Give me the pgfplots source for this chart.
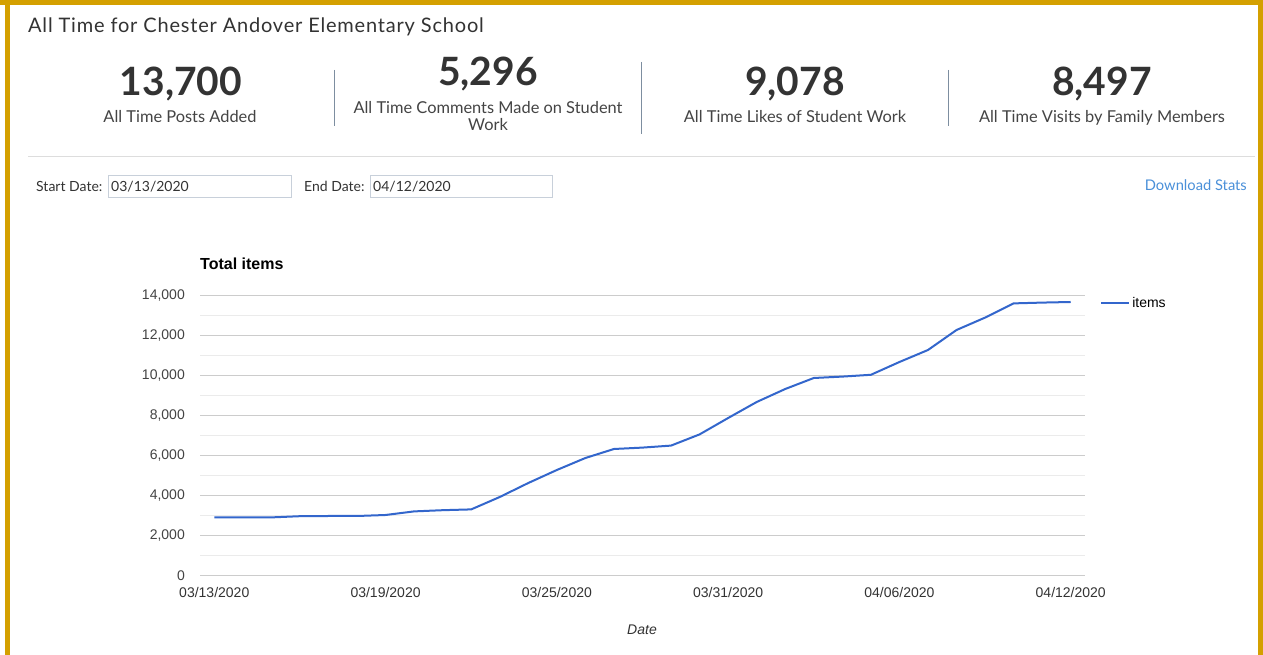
\documentclass[border=0pt]{standalone}
\usepackage{fontspec}
\setmainfont{Liberation Sans}
\newfontfamily\lato{Lato}
\newfontfamily\latowide{Lato}[LetterSpace=4]
\usepackage{pgfplots}
\pgfplotsset{compat=1.18}
\definecolor{gold}{RGB}{212,160,0}
\definecolor{txt}{RGB}{51,51,51}
\definecolor{lbl}{RGB}{68,68,68}
\definecolor{sep}{RGB}{125,142,160}
\definecolor{hr}{RGB}{221,221,221}
\definecolor{boxc}{RGB}{200,208,218}
\definecolor{link}{RGB}{74,144,217}
\definecolor{gblue}{RGB}{51,102,204}
\definecolor{gridmaj}{RGB}{204,204,204}
\definecolor{gridmin}{RGB}{235,235,235}
\definecolor{zeroc}{RGB}{51,51,51}
\pgfplotstableread{
d v
0 2930
1 2930
2 2930
3 2990
4 3000
5 3000
6 3050
7 3230
8 3290
9 3330
10 3950
11 4650
12 5300
13 5900
14 6350
15 6420
16 6520
17 7080
18 7900
19 8700
20 9350
21 9900
22 9970
23 10060
24 10700
25 11300
26 12300
27 12920
28 13630
29 13670
30 13700
}\items
\begin{document}
\begin{tikzpicture}[x=1pt,y=1pt]
\path[use as bounding box, fill=white] (0,0) rectangle (1263,655);
\fill[gold] (0,650) rectangle (1263,655);
\fill[gold] (5,0) rectangle (10,655);
\fill[gold] (1258,0) rectangle (1263,655);
% header
\node[anchor=base west, inner sep=0, text=txt, font=\latowide\fontsize{20}{23}\selectfont] at (28,622) {All Time for Chester Andover Elementary School};
\begin{scope}[every node/.style={anchor=base, inner sep=0, text=txt}]
\node[font=\lato\bfseries\fontsize{39}{44}\selectfont] at (181,559) {13,700};
\node[font=\lato\bfseries\fontsize{39}{44}\selectfont] at (488,569) {5,296};
\node[font=\lato\bfseries\fontsize{39}{44}\selectfont] at (795,559) {9,078};
\node[font=\lato\bfseries\fontsize{39}{44}\selectfont] at (1102,559) {8,497};
\node[font=\lato\fontsize{16.4}{19}\selectfont, text=lbl] at (180,532) {All Time Posts Added};
\node[font=\lato\fontsize{16.4}{19}\selectfont, text=lbl] at (488,541) {All Time Comments Made on Student};
\node[font=\lato\fontsize{16.4}{19}\selectfont, text=lbl] at (488,524) {Work};
\node[font=\lato\fontsize{16.4}{19}\selectfont, text=lbl] at (795,532) {All Time Likes of Student Work};
\node[font=\lato\fontsize{16.4}{19}\selectfont, text=lbl] at (1102,532) {All Time Visits by Family Members};
\end{scope}
\draw[sep, line width=1pt] (334,585) -- (334,529);
\draw[sep, line width=1pt] (641,593) -- (641,521);
\draw[sep, line width=1pt] (948,585) -- (948,529);
\draw[hr, line width=1pt] (28,498) -- (1255,498);
% date fields
\draw[boxc, line width=1pt] (108,457) rectangle (291,479);
\draw[boxc, line width=1pt] (370,457) rectangle (552,479);
\begin{scope}[every node/.style={anchor=base west, inner sep=0, font=\lato\fontsize{14}{17}\selectfont, text=txt}]
\node at (36,463) {Start Date:};
\node at (111,463) {03/13/2020};
\node at (304,463) {End Date:};
\node at (373,463) {04/12/2020};
\end{scope}
\node[anchor=base east, inner sep=0, font=\lato\fontsize{14.7}{17}\selectfont, text=link] at (1247,464) {Download Stats};
% chart
\node[anchor=base west, inner sep=0, font=\bfseries\fontsize{16}{19}\selectfont] at (200,385) {Total items};
\node[anchor=base, inner sep=0, font=\itshape\fontsize{14}{17}\selectfont, text=txt] at (642,20) {Date};
\begin{axis}[at={(200pt,79pt)}, anchor=south west, scale only axis,
  width=885pt, height=280pt,
  xmin=-0.5, xmax=30.5, ymin=0, ymax=14000,
  xtick={0,6,12,18,24,30},
  xticklabels={03/13/2020,03/19/2020,03/25/2020,03/31/2020,04/06/2020,04/12/2020},
  ytick={0,2000,...,14000}, minor ytick={1000,3000,...,13000},
  scaled y ticks=false,
  ymajorgrids, yminorgrids,
  major grid style={draw=gridmaj, line width=1pt},
  minor grid style={draw=gridmin, line width=1pt},
  axis line style={draw=none},
  major tick length=0pt, minor tick length=0pt,
  extra y ticks={0}, extra y tick labels={},
  extra y tick style={grid style={draw=zeroc!70, line width=1.3pt}},
  /pgf/number format/.cd, 1000 sep={,}, assume math mode=true, /pgfplots/.cd,
  yticklabel style={font=\fontsize{14}{17}\selectfont, text=lbl, inner sep=0pt, anchor=east, xshift=-15pt,
    /pgf/number format/.cd, fixed, 1000 sep={,}, assume math mode=true},
  xticklabel style={font=\fontsize{14}{17}\selectfont, text=txt, inner sep=0pt, anchor=north, yshift=-11pt},
  legend style={at={(axis description cs:1.017,0.975)}, anchor=west, draw=none, fill=none,
    font=\fontsize{14}{17}\selectfont, inner sep=0pt},
  legend image code/.code={\draw[#1] (0pt,0pt) -- (28pt,0pt);},
]
\addplot[gblue, line width=2pt, line join=round] table[x=d, y=v] {\items};
\addlegendentry{items}
\end{axis}
\end{tikzpicture}
\end{document}
